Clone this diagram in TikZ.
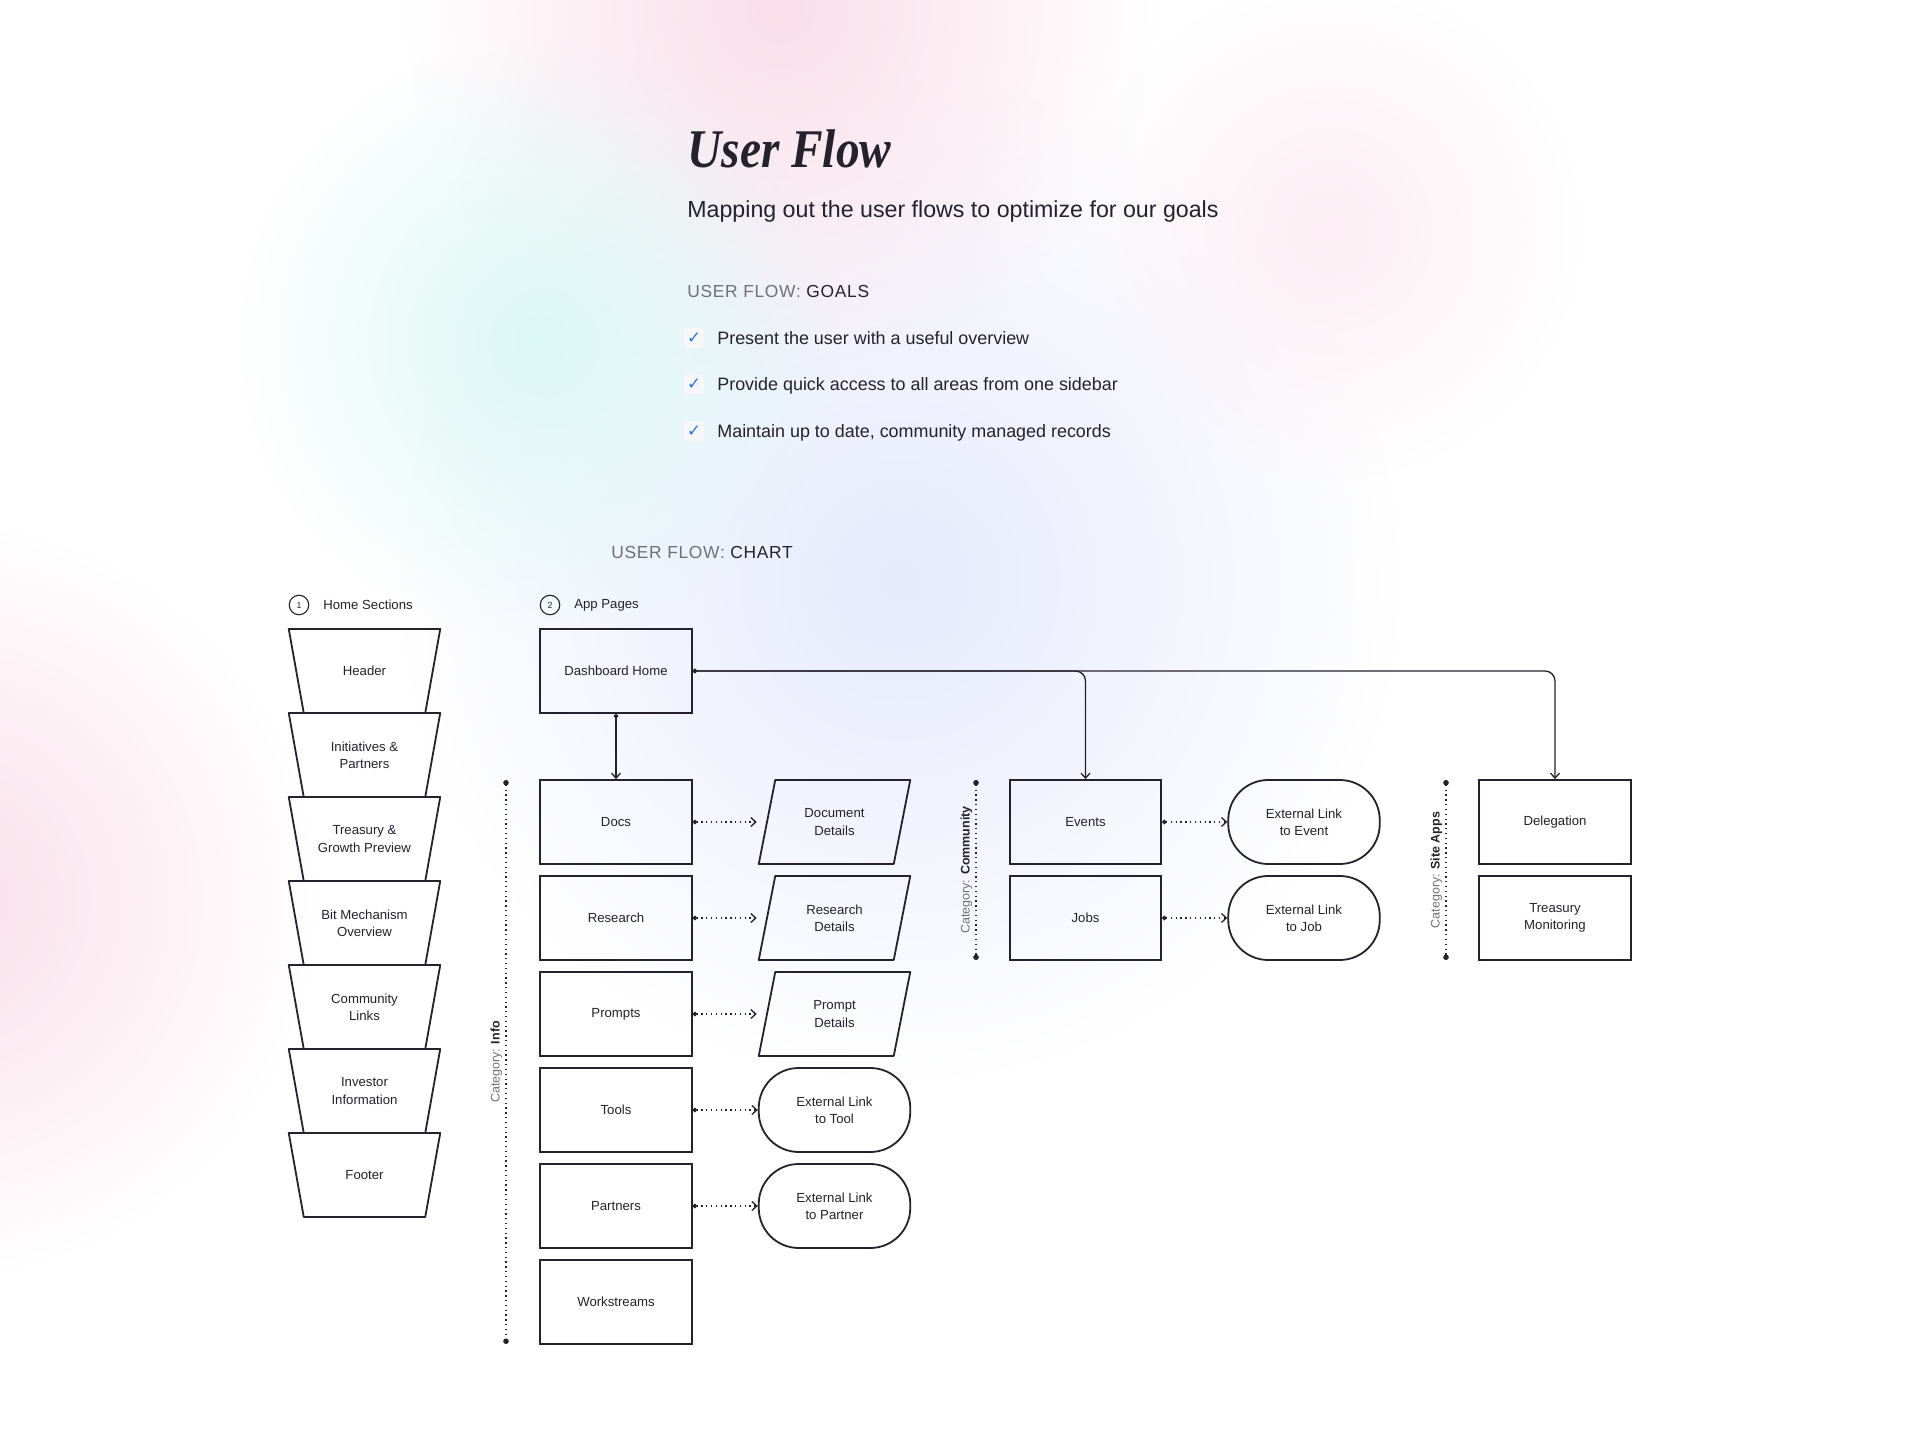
\documentclass[tikz,border=0pt]{standalone}
\usepackage{fontspec}
\setmainfont{Liberation Sans}
\newfontfamily\titlefont{Liberation Serif}
\newfontfamily\capsfont{Liberation Sans}[LetterSpace=4]
\newfontfamily\symfont{DejaVu Sans}
\usepackage{tikz}
\usetikzlibrary{calc, arrows.meta, fadings}
\definecolor{ink}{RGB}{36,34,44}
\definecolor{softgrey}{RGB}{112,112,120}
\definecolor{tickblue}{RGB}{30,120,240}
\definecolor{glowpink}{RGB}{250,222,233}
\definecolor{glowcyan}{RGB}{218,248,245}
\definecolor{glowblue}{RGB}{230,234,252}
\newlength\boxw
\setlength\boxw{30.3mm}
\newlength\boxh
\setlength\boxh{16.8mm}
\newlength\funnelin
\setlength\funnelin{3mm}
\newlength\slant
\setlength\slant{3.3mm}
\newcommand\catname[1]{{\color{softgrey}Category: }\textbf{#1}}
% outline of a home section (wide on top)
\newcommand\funnel[1]{%
  \draw[outline] (#1.north west) -- (#1.north east)
    -- ([xshift=-\funnelin]#1.south east) -- ([xshift=\funnelin]#1.south west) -- cycle;}
% outline of a detail page (leaning right)
\newcommand\leanbox[1]{%
  \draw[outline] (#1.south west) -- ([xshift=\slant]#1.north west)
    -- (#1.north east) -- ([xshift=-\slant]#1.south east) -- cycle;}
\tikzfading[name=glow, inner color=transparent!0, outer color=transparent!100]
\tikzset{
  chartfont/.style={font=\fontsize{7.5}{9.8}\selectfont},
  outline/.style={draw=ink, line width=0.36mm, line join=round},
  pagebox/.style={draw=ink, line width=0.36mm, minimum width=\boxw,
    minimum height=\boxh, text=ink, align=center, inner sep=1pt, chartfont},
  sectionbox/.style={pagebox, draw=none, outer sep=0pt},
  detailbox/.style={pagebox, draw=none, outer sep=0pt},
  linkbox/.style={pagebox, rounded corners=8mm},
  flowline/.style={draw=ink, line width=0.26mm,
    {Circle[length=0.9mm]}-{Straight Barb[length=1mm, width=1.8mm]}},
  linkline/.style={flowline, dotted},
  catline/.style={draw=ink, line width=0.26mm, dotted,
    {Circle[length=1.1mm]}-{Circle[length=1.1mm]}},
  catlabel/.style={rotate=90, anchor=south, inner sep=0.7mm, text=ink,
    font=\fontsize{7.1}{8}\selectfont},
  stepmark/.style={circle, draw=ink, line width=0.22mm, minimum size=3.9mm,
    inner sep=0pt, text=ink, font=\fontsize{5}{5}\selectfont},
  headlabel/.style={anchor=west, inner sep=0pt, text=ink, chartfont},
  sectionhead/.style={anchor=base west, inner sep=0pt, text=ink,
    font=\capsfont\fontsize{9.9}{12}\selectfont},
  tick/.style={rounded corners=0.6mm, fill=black!3, minimum size=4mm,
    inner sep=0pt, text=tickblue, font=\symfont\bfseries\fontsize{9.5}{9.5}\selectfont},
  goaltext/.style={anchor=base west, inner sep=0pt, text=ink,
    font=\fontsize{10.2}{12}\selectfont},
}
\begin{document}
\begin{tikzpicture}[x=0.2mm, y=-0.2mm]
% page and soft glow behind it
\useasboundingbox (0,0) rectangle (1920,1440);
\fill[white] (0,0) rectangle (1920,1440);
\fill[glowblue, path fading=glow] (900,580) circle[radius=100mm];
\fill[glowpink, path fading=glow] (780,10) circle[radius=75mm];
\fill[glowcyan, path fading=glow] (540,340) circle[radius=60mm];
\fill[glowpink, path fading=glow] (-60,900) circle[radius=75mm];
\fill[glowpink!50, path fading=glow] (1330,230) circle[radius=50mm];
% heading and goals
\node[anchor=base west, inner sep=0pt, text=ink,
  font=\titlefont\bfseries\itshape\fontsize{31}{31}\selectfont]
  (title) at (687,168) {\scalebox{0.87}[1]{User Flow}};
\node[anchor=base west, inner sep=0pt, text=ink, font=\fontsize{13.2}{15}\selectfont]
  (subtitle) at (687,218) {Mapping out the user flows to optimize for our goals};
\node[sectionhead] (goalhead) at (687,297.5) {{\color{softgrey}USER FLOW:} GOALS};
\node[tick] (tick1) at (694,338) {✓};
\node[goaltext] (goal1) at (717,344.5) {Present the user with a useful overview};
\node[tick] (tick2) at (694,384.5) {✓};
\node[goaltext] (goal2) at (717,391) {Provide quick access to all areas from one sidebar};
\node[tick] (tick3) at (694,431) {✓};
\node[goaltext] (goal3) at (717,437.5) {Maintain up to date, community managed records};
\node[sectionhead] (charthead) at (611,558.5) {{\color{softgrey}USER FLOW:} CHART};
% column heads
\node[stepmark] (mark1) at (299,605) {1};
\node[headlabel] (homehead) at (323,605) {Home Sections};
\node[stepmark] (mark2) at (550,605) {2};
\node[headlabel] (apphead) at (574,605) {App Pages};
% home sections
\node[sectionbox] (header) at (364.5,671) {Header};
\node[sectionbox] (initiatives) at (364.5,755) {Initiatives \&\\Partners};
\node[sectionbox] (treasury) at (364.5,839) {Treasury \&\\Growth Preview};
\node[sectionbox] (mechanism) at (364.5,923) {Bit Mechanism\\Overview};
\node[sectionbox] (community) at (364.5,1007) {Community\\Links};
\node[sectionbox] (investor) at (364.5,1091) {Investor\\Information};
\node[sectionbox] (footer) at (364.5,1175) {Footer};
\funnel{header}
\funnel{initiatives}
\funnel{treasury}
\funnel{mechanism}
\funnel{community}
\funnel{investor}
\funnel{footer}
% app pages
\node[pagebox] (dash) at (616,671) {Dashboard Home};
\node[pagebox] (docs) at (616,822) {Docs};
\node[pagebox] (research) at (616,918) {Research};
\node[pagebox] (prompts) at (616,1014) {Prompts};
\node[pagebox] (tools) at (616,1110) {Tools};
\node[pagebox] (partners) at (616,1206) {Partners};
\node[pagebox] (workstreams) at (616,1302) {Workstreams};
\node[detailbox] (docdetail) at (834.5,822) {Document\\Details};
\node[detailbox] (resdetail) at (834.5,918) {Research\\Details};
\node[detailbox] (promptdetail) at (834.5,1014) {Prompt\\Details};
\leanbox{docdetail}
\leanbox{resdetail}
\leanbox{promptdetail}
\node[linkbox] (toollink) at (834.5,1110) {External Link\\to Tool};
\node[linkbox] (partnerlink) at (834.5,1206) {External Link\\to Partner};
\node[pagebox] (events) at (1085.5,822) {Events};
\node[pagebox] (jobs) at (1085.5,918) {Jobs};
\node[linkbox] (eventlink) at (1304,822) {External Link\\to Event};
\node[linkbox] (joblink) at (1304,918) {External Link\\to Job};
\node[pagebox] (deleg) at (1555,822) {Delegation};
\node[pagebox] (treasmon) at (1555,918) {Treasury\\Monitoring};
% category rulers
\coordinate (infotop) at (506,780);
\coordinate (infobot) at (506,1344);
\coordinate (commtop) at (976,780);
\coordinate (commbot) at (976,960);
\coordinate (sitetop) at (1446,780);
\coordinate (sitebot) at (1446,960);
\draw[catline] (infotop) -- (infobot);
\draw[catline] (commtop) -- (commbot);
\draw[catline] (sitetop) -- (sitebot);
\node[catlabel] (infolabel) at ($(infotop)!0.5!(infobot)$) {\catname{Info}};
\node[catlabel] (commlabel) at ($(commtop)!0.5!(commbot)$) {\catname{Community}};
\node[catlabel] (sitelabel) at ($(sitetop)!0.5!(sitebot)$) {\catname{Site Apps}};
% flows
\draw[flowline] (dash.south) -- (docs.north);
\draw[flowline, rounded corners=2mm] (dash.east) -| (events.north);
\draw[flowline, rounded corners=2mm] (dash.east) -| (deleg.north);
\draw[linkline, shorten >=0.4mm] (docs.east) -- (docdetail.west);
\draw[linkline, shorten >=0.4mm] (research.east) -- (resdetail.west);
\draw[linkline, shorten >=0.4mm] (prompts.east) -- (promptdetail.west);
\draw[linkline] (tools.east) -- (toollink.west);
\draw[linkline] (partners.east) -- (partnerlink.west);
\draw[linkline] (events.east) -- (eventlink.west);
\draw[linkline] (jobs.east) -- (joblink.west);
\end{tikzpicture}
\end{document}
